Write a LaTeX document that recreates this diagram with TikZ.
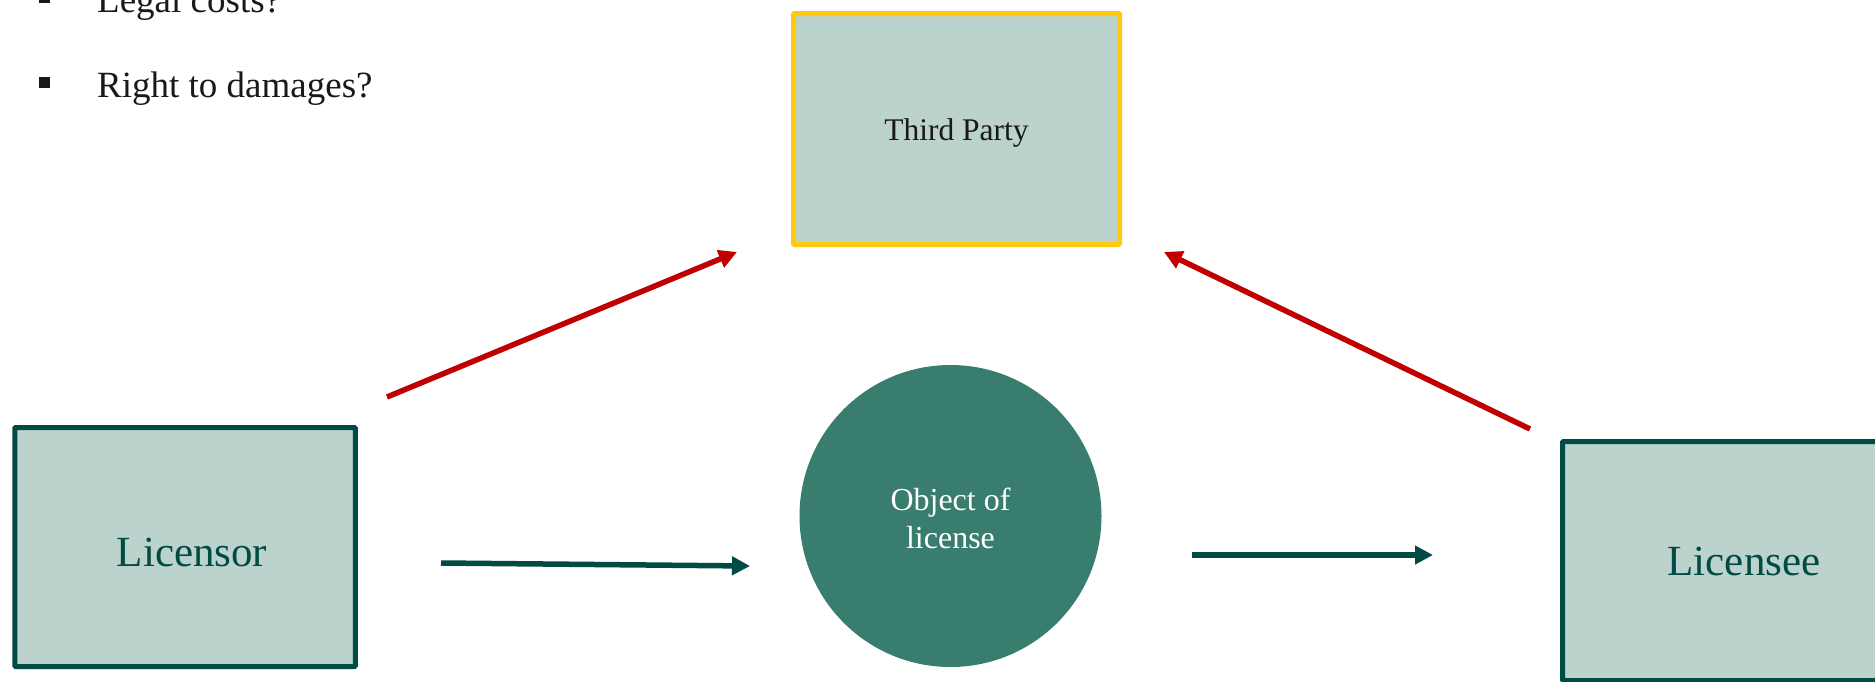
\documentclass[tikz,border=0pt]{standalone}
\usepackage{fontspec}
\setmainfont{Liberation Serif}
\usetikzlibrary{arrows.meta}

\definecolor{boxfill}{HTML}{BCD2CD}
\definecolor{darkgreen}{HTML}{004B43}
\definecolor{midgreen}{HTML}{387D6E}
\definecolor{alertred}{HTML}{C00000}
\definecolor{gold}{HTML}{FFC90E}

\tikzset{
  partybox/.style={rectangle, fill=boxfill, draw=darkgreen, line width=5pt,
    rounded corners=1pt, inner sep=0pt},
  thirdbox/.style={partybox, draw=gold},
  partylabel/.style={inner sep=0pt, text=darkgreen, font=\fontsize{43}{50}\selectfont},
  thirdlabel/.style={inner sep=0pt, text=black!90, font=\fontsize{31.5}{38}\selectfont},
  objcircle/.style={circle, fill=midgreen, draw=none, minimum size=302pt, inner sep=0pt},
  objlabel/.style={inner sep=0pt, text=white, align=center, font=\fontsize{32}{38}\selectfont},
  redarrow/.style={draw=alertred, line width=5.5pt, -{Triangle[length=18pt,width=18pt]}},
  greenarrow/.style={draw=darkgreen, line width=5.5pt, -{Triangle[length=18pt,width=18pt]}},
  bullettext/.style={anchor=base west, inner sep=0pt, text=black!90, font=\fontsize{37}{44}\selectfont},
  bulletmark/.style={rectangle, fill=black!90, minimum size=11pt, inner sep=0pt}
}

\begin{document}
\begin{tikzpicture}[x=1pt, y=-1pt]
  \useasboundingbox (0,0) rectangle (1875,681);

  % bullet list at the top left
  \node[bulletmark] (b1) at (44.5,-3) {};
  \node[bullettext] (t1) at (97,12) {Legal costs?};
  \node[bulletmark] (b2) at (44.5,82) {};
  \node[bullettext] (t2) at (97,97) {Right to damages?};

  % the parties
  \node[partybox, minimum width=340.5pt, minimum height=239pt] (licensor) at (185,547) {};
  \node[partylabel] (licensortext) at ([xshift=7pt,yshift=-5pt]licensor.center) {Licensor};
  \node[partybox, minimum width=341pt, minimum height=239pt] (licensee) at (1733,561) {};
  \node[partylabel] (licenseetext) at ([xshift=11pt]licensee.center) {Licensee};
  \node[thirdbox, minimum width=326pt, minimum height=231pt] (third) at (956.5,129) {};
  \node[thirdlabel] (thirdtext) at ([yshift=-4pt]third.center) {Third Party};

  % the licensed object
  \node[objcircle] (object) at (950.5,516) {};
  \node[objlabel] (objecttext) at ([yshift=-2.5pt]object.center) {Object of\\license};

  % arrow end points
  \coordinate (r1s) at (387,397);
  \coordinate (r1e) at (737,252);
  \coordinate (r2s) at (1530,429);
  \coordinate (r2e) at (1164,252);
  \coordinate (g1s) at (441,563);
  \coordinate (g1e) at (750,566);
  \coordinate (g2s) at (1192,555);
  \coordinate (g2e) at (1433,555);

  % claims of the third party
  \draw[redarrow] (r1s) -- (r1e);
  \draw[redarrow] (r2s) -- (r2e);

  % licence flow
  \draw[greenarrow] (g1s) -- (g1e);
  \draw[greenarrow] (g2s) -- (g2e);
\end{tikzpicture}
\end{document}
